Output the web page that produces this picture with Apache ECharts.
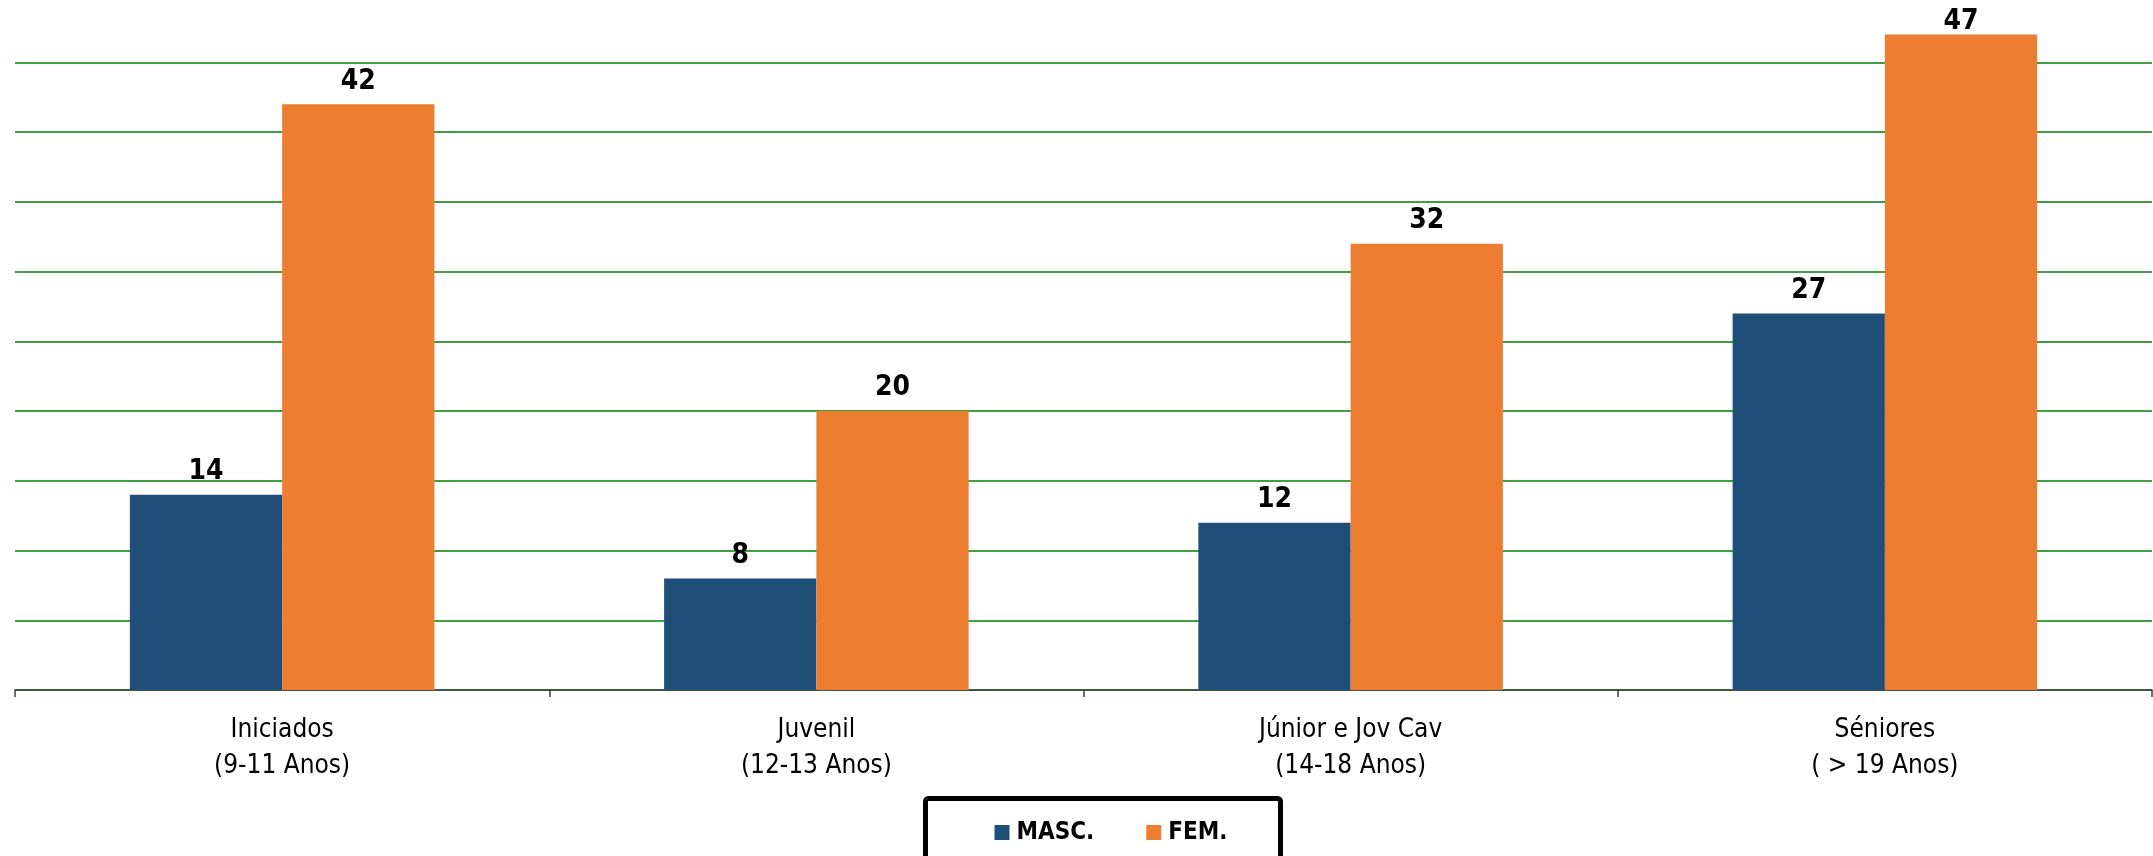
<!DOCTYPE html>
<html>
<head>
<meta charset="utf-8">
<script src="https://cdn.jsdelivr.net/npm/echarts@6/dist/echarts.min.js"></script>
<style>
html,body{margin:0;padding:0;background:#fff;}
#c{width:2153px;height:856px;}
</style>
</head>
<body>
<div id="c"></div>
<script>
var categories = ["Iniciados\n(9-11 Anos)", "Juvenil\n(12-13 Anos)", "Júnior e Jov Cav\n(14-18 Anos)", "Séniores\n( > 19 Anos)"];
var seriesNames = ["MASC.", "FEM."];
var masc = [14, 8, 12, 27];
var fem = [42, 20, 32, 47];

var FONT = "'Liberation Sans Narrow', 'DejaVu Sans Condensed', sans-serif";
function keepInside(params) {
  var r = params.labelRect;
  if (r.y < 6) {
    return { x: r.x + r.width / 2, y: 22, align: 'center', verticalAlign: 'middle' };
  }
  return {};
}
var chart = echarts.init(document.getElementById('c'));
chart.setOption({
  animation: false,
  backgroundColor: '#ffffff',
  grid: { left: 15, right: 1, top: 62.5, bottom: 166, containLabel: false },
  legend: {
    data: seriesNames,
    left: 925.5, top: 798.5,
    padding: [22, 53, 60, 69],
    itemWidth: 15, itemHeight: 15, itemGap: 52,
    borderColor: '#000', borderWidth: 5, borderRadius: 3,
    icon: 'rect',
    textStyle: { fontFamily: FONT, fontWeight: 'bold', fontSize: 24, color: '#000', padding: [0,0,0,2] }
  },
  xAxis: {
    type: 'category',
    data: categories,
    axisLine: { show: true, lineStyle: { color: '#404040', width: 1.5 } },
    axisTick: { show: true, length: 7, lineStyle: { color: '#404040', width: 1.5 } },
    axisLabel: { fontFamily: FONT, fontSize: 26, color: '#000', lineHeight: 36, margin: 22 }
  },
  yAxis: {
    type: 'value', min: 0, max: 45, interval: 5,
    axisLabel: { show: false },
    axisLine: { show: false },
    axisTick: { show: false },
    splitLine: { show: true, lineStyle: { color: '#008000', width: 1.5 } }
  },
  series: [
    {
      name: seriesNames[0], type: 'bar', data: masc, clip: false,
      barWidth: '28.5%', barGap: '0%',
      itemStyle: { color: '#1F4E79' },
      label: { show: true, position: 'top', distance: 9, fontFamily: FONT, fontWeight: 'bold', fontSize: 28, color: '#000' },
      labelLayout: keepInside
    },
    {
      name: seriesNames[1], type: 'bar', data: fem, clip: false,
      barWidth: '28.5%', barGap: '0%',
      itemStyle: { color: '#ED7D31' },
      label: { show: true, position: 'top', distance: 9, fontFamily: FONT, fontWeight: 'bold', fontSize: 28, color: '#000' },
      labelLayout: keepInside
    }
  ]
});
</script>
</body>
</html>
